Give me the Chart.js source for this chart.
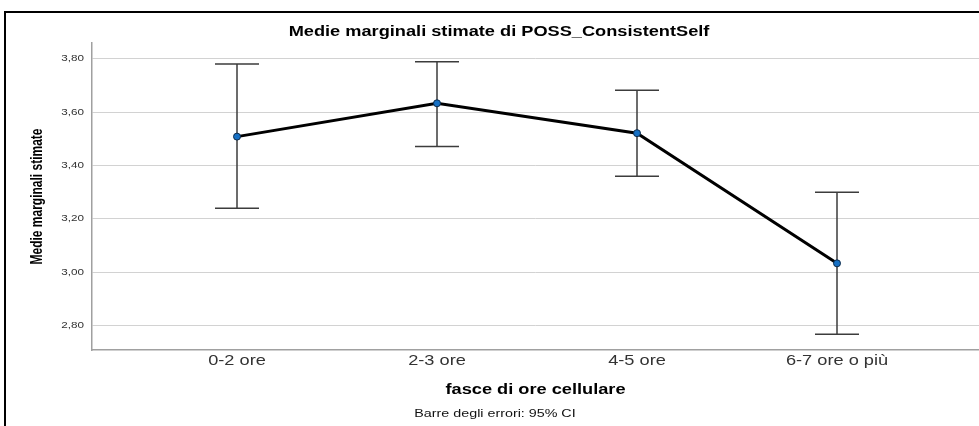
<!DOCTYPE html>
<html>
<head>
<meta charset="utf-8">
<script src="https://cdn.jsdelivr.net/npm/chart.js@4/dist/chart.umd.min.js"></script>
<style>
  html, body { margin: 0; padding: 0; background: #fff; overflow: hidden; }
  #wrap { position: relative; width: 979px; height: 426px; }
  #frame { position: absolute; left: 4px; top: 11px; width: 990px; height: 430px;
           border-top: 2px solid #000; border-left: 2px solid #000; pointer-events: none; }
  canvas { position: absolute; left: 0; top: 0; }
</style>
</head>
<body>
<div id="wrap">
  <canvas id="c" width="979" height="426"></canvas>
  <div id="frame"></div>
</div>
<script>
// Estimated marginal means with 95% confidence intervals
const categories = ['0-2 ore', '2-3 ore', '4-5 ore', '6-7 ore o più'];
const means      = [3.508, 3.633, 3.521, 3.033];
const ciUpper    = [3.780, 3.789, 3.682, 3.299];
const ciLower    = [3.239, 3.471, 3.359, 2.767];
const yTicks     = [2.80, 3.00, 3.20, 3.40, 3.60, 3.80];

const chartTitle = 'Medie marginali stimate di POSS_ConsistentSelf';
const xTitle     = 'fasce di ore cellulare';
const yTitle     = 'Medie marginali stimate';
const footnote   = 'Barre degli errori: 95% CI';

const SANS = '"Liberation Sans", Arial, sans-serif';
const STRETCH = 1.3;   // text is drawn horizontally widened

// Draw text widened along its own x direction
function wideText(ctx, text, x, y, font, color, align, rot) {
  ctx.save();
  ctx.translate(x, y);
  if (rot) ctx.rotate(rot);
  ctx.scale(rot ? 1 : STRETCH, rot ? STRETCH : 1);
  ctx.font = font;
  ctx.fillStyle = color;
  ctx.textAlign = align || 'center';
  ctx.textBaseline = 'middle';
  ctx.fillText(text, 0, 0);
  ctx.restore();
}

const errorBars = {
  id: 'errorBars',
  beforeDatasetsDraw(chart) {
    const { ctx, scales: { x, y } } = chart;
    ctx.save();
    ctx.strokeStyle = '#3c3c3c';
    ctx.lineWidth = 1.5;
    const cap = 22;
    categories.forEach((_, i) => {
      const px = x.getPixelForValue(i);
      const top = y.getPixelForValue(ciUpper[i]);
      const bot = y.getPixelForValue(ciLower[i]);
      ctx.beginPath();
      ctx.moveTo(px, top); ctx.lineTo(px, bot);
      ctx.moveTo(px - cap, top); ctx.lineTo(px + cap, top);
      ctx.moveTo(px - cap, bot); ctx.lineTo(px + cap, bot);
      ctx.stroke();
    });
    ctx.restore();
  }
};

const labels = {
  id: 'labels',
  afterDraw(chart) {
    const { ctx, chartArea, scales: { x, y } } = chart;
    const midX = (chartArea.left + chartArea.right) / 2;
    const midY = (chartArea.top + chartArea.bottom) / 2;
    wideText(ctx, chartTitle, 499, 32, 'bold 14px ' + SANS, '#000');
    categories.forEach((c, i) => {
      wideText(ctx, c, x.getPixelForValue(i), 361, '14px ' + SANS, '#333');
    });
    yTicks.forEach(v => {
      wideText(ctx, v.toFixed(2).replace('.', ','), chartArea.left - 8, y.getPixelForValue(v),
               '9px ' + SANS, '#333', 'right');
    });
    wideText(ctx, xTitle, midX, 390, 'bold 14px ' + SANS, '#000');
    wideText(ctx, footnote, 495, 414, '11px ' + SANS, '#111');
    wideText(ctx, yTitle, 38, midY, 'bold 12px ' + SANS, '#000', 'center', -Math.PI / 2);
  }
};

new Chart(document.getElementById('c'), {
  type: 'line',
  data: {
    datasets: [{
      data: means.map((v, i) => ({ x: i, y: v })),
      borderColor: '#000',
      borderWidth: 3,
      pointRadius: 3.5,
      pointBackgroundColor: '#1670c4',
      pointBorderColor: '#0c2a4a',
      pointBorderWidth: 1,
      tension: 0
    }]
  },
  options: {
    responsive: false,
    animation: false,
    events: [],
    layout: { autoPadding: false, padding: { left: 0, top: 43, right: 0, bottom: 0 } },
    plugins: { legend: { display: false }, tooltip: { enabled: false }, title: { display: false } },
    scales: {
      x: {
        type: 'linear',
        min: -0.725,
        max: 3.71,
        afterBuildTicks(s) { s.ticks = categories.map((_, i) => ({ value: i })); },
        afterFit(s) { s.height = 76; },
        grid: { display: false, drawTicks: false },
        border: { display: true, color: '#a0a0a0', width: 1.5 },
        ticks: { display: false }
      },
      y: {
        min: 2.708,
        max: 3.859,
        afterBuildTicks(s) { s.ticks = yTicks.map(v => ({ value: v })); },
        afterFit(s) { s.width = 92; },
        grid: { color: '#d2d2d2', lineWidth: 1, drawTicks: false },
        border: { display: true, color: '#a0a0a0', width: 1.5 },
        ticks: { display: false }
      }
    }
  },
  plugins: [errorBars, labels]
});
</script>
</body>
</html>
